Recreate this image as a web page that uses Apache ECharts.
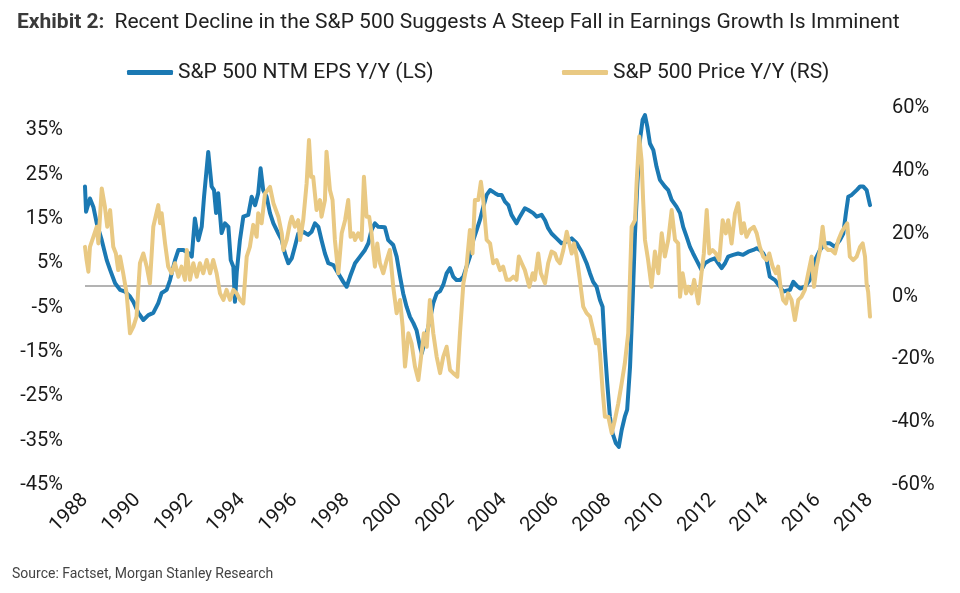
<!DOCTYPE html>
<html>
<head>
<meta charset="utf-8">
<script src="https://cdn.jsdelivr.net/npm/echarts@6/dist/echarts.min.js"></script>
<style>
html,body{margin:0;padding:0;background:#fff;}
#chart{width:960px;height:593px;}
</style>
</head>
<body>
<div id="chart"></div>
<script>
// ---- Data (x in fractional years, values in %) ----
const xTicks = [1988,1990,1992,1994,1996,1998,2000,2002,2004,2006,2008,2010,2012,2014,2016,2018];
const leftTicks = [-45,-35,-25,-15,-5,5,15,25,35];
const rightTicks = [-60,-40,-20,0,20,40,60];

const epsYears = [1988.00,1988.04,1988.19,1988.32,1988.45,1988.64,1988.83,1988.96,1989.15,1989.34,1989.53,1989.72,1989.85,1990.04,1990.23,1990.42,1990.61,1990.80,1990.93,1991.12,1991.25,1991.44,1991.57,1991.76,1991.95,1992.08,1992.20,1992.33,1992.46,1992.55,1992.71,1992.84,1992.93,1993.01,1993.09,1993.22,1993.35,1993.48,1993.57,1993.67,1993.73,1993.80,1993.92,1994.05,1994.24,1994.37,1994.50,1994.62,1994.71,1994.81,1994.94,1995.07,1995.20,1995.39,1995.52,1995.64,1995.77,1995.90,1996.02,1996.15,1996.34,1996.53,1996.66,1996.79,1996.92,1997.04,1997.17,1997.30,1997.49,1997.68,1997.87,1998.00,1998.13,1998.32,1998.51,1998.70,1998.83,1998.95,1999.08,1999.21,1999.46,1999.59,1999.78,1999.91,2000.04,2000.16,2000.29,2000.42,2000.55,2000.67,2000.80,2000.87,2001.06,2001.18,2001.31,2001.44,2001.57,2001.69,2001.82,2001.95,2002.07,2002.20,2002.33,2002.46,2002.58,2002.71,2002.84,2002.97,2003.09,2003.22,2003.35,2003.48,2003.67,2003.79,2003.92,2004.05,2004.18,2004.30,2004.49,2004.62,2004.81,2004.94,2005.13,2005.26,2005.45,2005.58,2005.70,2005.83,2006.02,2006.21,2006.41,2006.60,2006.79,2006.98,2007.17,2007.30,2007.42,2007.55,2007.68,2007.78,2007.87,2007.96,2008.06,2008.16,2008.29,2008.40,2008.51,2008.63,2008.72,2008.83,2008.93,2009.02,2009.11,2009.21,2009.31,2009.40,2009.49,2009.59,2009.72,2009.84,2009.97,2010.16,2010.29,2010.42,2010.61,2010.74,2010.86,2010.99,2011.12,2011.24,2011.37,2011.56,2011.69,2011.89,2012.07,2012.20,2012.33,2012.46,2012.58,2012.77,2012.96,2013.15,2013.35,2013.54,2013.67,2013.79,2013.92,2014.05,2014.17,2014.37,2014.56,2014.68,2014.81,2014.94,2015.07,2015.19,2015.33,2015.51,2015.70,2015.90,2016.09,2016.28,2016.47,2016.66,2016.85,2016.98,2017.08,2017.17,2017.30,2017.49,2017.62,2017.74,2017.87,2018.00];
const epsValues = [22.3,16.6,19.6,17.7,14.0,10.2,5.7,3.5,0.5,-1.0,-1.4,-2.5,-3.7,-6.2,-7.8,-6.7,-6.2,-4.0,-1.7,-1.0,1.2,5.7,8.0,8.0,7.3,6.5,15.1,10.2,13.2,20.0,30.1,22.3,21.5,16.3,20.8,11.8,14.0,13.2,5.7,4.2,-3.7,3.0,10.2,15.5,15.9,20.0,18.1,20.8,26.4,21.5,20.0,16.3,14.0,11.7,10.2,7.2,5.0,6.1,8.7,11.7,12.1,11.4,12.1,14.0,13.2,10.2,7.2,5.0,4.6,2.7,0.8,-0.3,2.0,5.0,6.5,8.0,9.5,12.5,14.0,13.2,13.1,10.2,9.1,6.5,2.0,-1.8,-4.8,-7.1,-8.5,-10.1,-13.8,-15.3,-10.8,-7.8,-4.0,-1.8,-1.3,0.1,2.7,3.9,2.0,1.2,1.2,2.0,4.2,6.5,10.2,12.5,14.7,17.7,20.4,21.5,20.8,20.4,20.4,18.9,18.1,15.9,14.0,15.5,17.4,17.0,16.3,15.5,15.9,14.7,12.9,11.7,10.6,9.5,9.9,10.6,9.5,7.6,5.0,2.7,0.8,-0.3,-3.3,-4.8,-14.6,-22.1,-29.6,-33.3,-35.6,-36.4,-32.6,-29.6,-28.0,-18.3,-3.3,11.7,23.0,32.8,37.3,38.4,35.8,32.0,30.5,26.8,23.8,22.3,21.5,19.3,17.7,16.3,13.2,11.0,8.7,7.2,5.7,3.5,5.0,5.7,6.1,5.0,3.9,5.0,6.5,6.9,7.2,6.9,7.6,8.0,8.4,8.0,7.2,5.7,2.0,1.2,-0.3,-1.4,-1.2,-1.0,0.8,0.0,-0.7,-0.3,1.2,5.7,8.0,9.5,9.5,8.7,10.2,11.7,16.3,20.0,20.4,21.5,22.3,22.3,21.5,18.1];

const priceYears = [1988.00,1988.06,1988.13,1988.19,1988.32,1988.45,1988.51,1988.64,1988.76,1988.85,1988.96,1989.08,1989.18,1989.27,1989.34,1989.46,1989.59,1989.72,1989.85,1989.97,1990.10,1990.23,1990.36,1990.48,1990.61,1990.80,1990.87,1990.93,1991.06,1991.18,1991.31,1991.44,1991.57,1991.69,1991.82,1991.89,1992.01,1992.14,1992.27,1992.39,1992.52,1992.65,1992.78,1992.90,1993.03,1993.16,1993.29,1993.41,1993.54,1993.67,1993.80,1993.92,1994.05,1994.18,1994.30,1994.43,1994.56,1994.62,1994.75,1994.88,1995.07,1995.20,1995.39,1995.52,1995.58,1995.71,1995.83,1995.90,1996.02,1996.15,1996.22,1996.34,1996.47,1996.56,1996.64,1996.72,1996.85,1996.98,1997.04,1997.17,1997.23,1997.36,1997.46,1997.55,1997.68,1997.81,1997.94,1998.06,1998.15,1998.25,1998.32,1998.44,1998.57,1998.66,1998.76,1998.86,1998.95,1999.08,1999.17,1999.27,1999.40,1999.53,1999.65,1999.78,1999.91,2000.04,2000.14,2000.23,2000.36,2000.48,2000.61,2000.74,2000.86,2000.95,2001.06,2001.18,2001.31,2001.44,2001.57,2001.69,2001.82,2001.95,2002.07,2002.23,2002.33,2002.46,2002.58,2002.71,2002.81,2002.90,2003.03,2003.13,2003.22,2003.35,2003.48,2003.60,2003.73,2003.86,2003.98,2004.11,2004.24,2004.37,2004.49,2004.58,2004.69,2004.81,2004.98,2005.11,2005.19,2005.32,2005.42,2005.58,2005.70,2005.83,2005.96,2006.05,2006.15,2006.28,2006.41,2006.51,2006.60,2006.69,2006.79,2006.91,2007.04,2007.17,2007.30,2007.42,2007.53,2007.62,2007.68,2007.78,2007.87,2008.00,2008.13,2008.25,2008.38,2008.51,2008.63,2008.76,2008.89,2009.02,2009.08,2009.18,2009.27,2009.33,2009.40,2009.52,2009.65,2009.78,2009.91,2010.04,2010.16,2010.29,2010.42,2010.55,2010.67,2010.74,2010.84,2010.97,2011.05,2011.18,2011.28,2011.44,2011.56,2011.65,2011.76,2011.86,2011.98,2012.11,2012.24,2012.37,2012.49,2012.58,2012.71,2012.84,2012.96,2013.09,2013.18,2013.28,2013.41,2013.56,2013.67,2013.79,2013.92,2014.05,2014.15,2014.28,2014.40,2014.49,2014.58,2014.68,2014.79,2014.87,2015.00,2015.13,2015.26,2015.38,2015.51,2015.64,2015.77,2015.86,2015.96,2016.09,2016.19,2016.28,2016.40,2016.53,2016.66,2016.79,2016.92,2017.04,2017.13,2017.23,2017.36,2017.49,2017.62,2017.72,2017.81,2017.87,2017.93,2018.00];
const priceValues = [15.8,11.6,7.9,15.8,19.0,22.2,16.9,34.4,28.6,22.2,27.5,15.8,13.7,8.4,12.7,7.4,1.0,-11.7,-9.6,-6.4,10.6,13.7,9.5,4.2,22.2,29.1,23.3,26.5,16.9,9.5,7.4,10.6,6.3,9.5,5.3,14.8,5.3,10.6,6.3,10.6,7.4,11.6,7.4,11.6,7.4,1.0,-1.1,2.1,-1.1,2.1,1.0,-1.0,-2.2,12.7,15.8,22.8,19.0,26.5,23.3,32.8,34.9,29.7,25.4,20.1,14.8,18.0,23.3,25.4,22.2,24.3,18.0,24.3,36.0,49.8,38.1,38.1,27.5,30.7,25.4,30.7,46.1,33.9,30.7,18.0,7.4,20.1,24.3,30.7,19.0,20.1,18.0,20.1,18.0,38.1,25.4,25.4,20.1,9.5,16.9,10.6,7.4,11.6,14.8,3.1,-5.3,-1.1,-9.6,-22.3,-11.7,-14.9,-22.3,-26.6,-18.1,-11.7,-16.0,-1.1,-11.7,-19.2,-24.4,-19.2,-16.0,-23.4,-24.4,-25.5,-11.7,4.2,9.5,21.2,13.7,30.7,30.7,36.5,30.7,18.0,16.9,10.6,11.6,8.4,9.5,5.3,5.3,6.3,5.3,12.7,10.6,8.4,3.1,7.4,5.3,13.7,7.4,4.2,10.6,14.3,13.7,11.6,10.6,14.8,20.6,16.9,13.7,16.9,12.7,5.3,-3.2,-5.3,-6.4,-10.7,-14.9,-13.8,-18.1,-29.8,-38.3,-38.3,-43.5,-39.3,-34.0,-27.6,-21.3,-11.7,22.2,24.3,36.0,50.9,43.4,30.7,18.0,11.6,3.1,14.3,7.4,20.1,12.7,18.0,27.5,18.0,16.9,-0.1,7.4,1.0,3.1,1.0,5.3,-2.2,7.4,13.7,27.5,13.7,14.8,13.7,11.6,24.3,20.1,24.3,16.9,26.5,29.7,20.1,23.3,19.0,21.2,22.2,20.1,15.8,12.7,11.6,13.7,9.5,7.4,9.5,3.1,-1.1,-2.2,1.0,-1.1,-7.5,-1.1,-0.1,2.1,7.4,12.7,3.1,9.5,14.8,22.2,15.8,14.8,14.8,13.7,18.0,20.6,22.2,23.3,12.7,11.6,12.7,15.8,16.9,12.7,4.2,1.5,-6.4];

const epsName = 'S&P 500 NTM EPS Y/Y (LS)';
const priceName = 'S&P 500 Price Y/Y (RS)';

const chart = echarts.init(document.getElementById('chart'), null, {renderer: 'canvas'});
const FONT = 'Roboto';
const axisFont = {fontFamily: FONT, fontSize: 20, color: '#1a1a1a'};

chart.setOption({
  animation: false,
  backgroundColor: '#ffffff',
  title: {
    left: 12, top: 7,
    text: '{b|Exhibit 2:}  {r|Recent Decline in the S&P 500 Suggests A Steep Fall in Earnings Growth Is Imminent}',
    textStyle: {
      fontWeight: 'normal',
      rich: {
        b: {fontFamily: FONT, fontSize: 21, fontWeight: 'bold', color: '#3a3a3a'},
        r: {fontFamily: FONT, fontSize: 21, fontWeight: 'normal', color: '#222222'}
      }
    }
  },
  legend: [
    {left: 127, top: 62, padding: 0, data: [epsName], icon: 'roundRect', itemWidth: 46, itemHeight: 5,
     textStyle: {fontFamily: FONT, fontSize: 21, color: '#222'}},
    {left: 562, top: 62, padding: 0, data: [priceName], icon: 'roundRect', itemWidth: 46, itemHeight: 5,
     textStyle: {fontFamily: FONT, fontSize: 21, color: '#222'}}
  ],
  grid: {left: 85, right: 90, top: 108, bottom: 108, containLabel: false},
  xAxis: {
    type: 'value', min: 1988, max: 2018, interval: 2,
    axisLine: {show: false}, axisTick: {show: false}, splitLine: {show: false},
    axisLabel: Object.assign({rotate: 45, margin: 12, formatter: v => String(v),
      customValues: xTicks}, axisFont)
  },
  yAxis: [
    {
      type: 'value', min: -45, max: 40, position: 'left',
      axisLine: {show: false}, axisTick: {show: false}, splitLine: {show: false},
      axisLabel: Object.assign({margin: 22, formatter: v => v + '%', customValues: leftTicks}, axisFont)
    },
    {
      type: 'value', min: -60, max: 60, interval: 20, position: 'right',
      axisLine: {show: false}, axisTick: {show: false}, splitLine: {show: false},
      axisLabel: Object.assign({margin: 22, formatter: v => v + '%', customValues: rightTicks}, axisFont)
    }
  ],
  series: [
    {
      name: epsName, type: 'line', yAxisIndex: 0, showSymbol: false, symbol: 'none',
      data: epsYears.map((t, i) => [t, epsValues[i]]),
      itemStyle: {color: '#1b79b3'},
      lineStyle: {color: '#1b79b3', width: 4, cap: 'round', join: 'round'},
      z: 3,
      markLine: {
        silent: true, symbol: 'none', label: {show: false}, z: 1,
        lineStyle: {color: '#9a9a9a', width: 1.5, type: 'solid'},
        data: [{yAxis: 0}]
      }
    },
    {
      name: priceName, type: 'line', yAxisIndex: 1, showSymbol: false, symbol: 'none',
      data: priceYears.map((t, i) => [t, priceValues[i]]),
      itemStyle: {color: '#e9c983'},
      lineStyle: {color: '#e9c983', width: 4, cap: 'round', join: 'round'},
      z: 4
    }
  ],
  graphic: [
    {type: 'text', left: 12, top: 567,
     style: {text: 'Source: Factset, Morgan Stanley Research', fontFamily: FONT, fontSize: 14, fill: '#444'}}
  ]
});
</script>
</body>
</html>
